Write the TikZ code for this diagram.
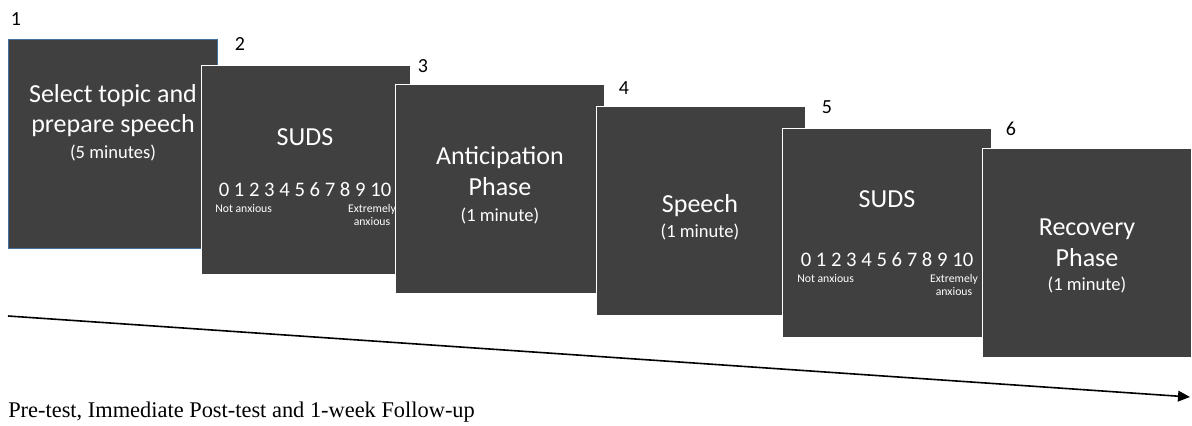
\documentclass[tikz,border=0pt]{standalone}
\usepackage{fontspec}
\setmainfont{Liberation Serif}
\newfontfamily\cardfont{Carlito}
\usepackage{tikz}
\usetikzlibrary{positioning,arrows.meta}
\definecolor{cardgray}{HTML}{404040}
\definecolor{cardblue}{HTML}{41719C}
\tikzset{
    card/.style={draw=white, line width=1.1pt, fill=cardgray, anchor=north west,
		minimum width=157pt, minimum height=157pt, inner sep=0pt},
    bigtxt/.style={text=white, anchor=base, inner sep=0pt, font=\cardfont\fontsize{19.5}{22}\selectfont},
    smalltxt/.style={text=white, anchor=base, inner sep=0pt, font=\cardfont\fontsize{13.9}{16}\selectfont},
    steplbl/.style={text=black, inner sep=0pt, font=\cardfont\fontsize{15}{18}\selectfont},
    timeline/.style={line width=1.2pt, -{Triangle[length=9pt,width=8pt]}}
}
\tikzset{
    sudsScale/.pic={
		\node[text=white, anchor=base, inner sep=0pt, font=\cardfont\fontsize{15.5}{18}\selectfont] (-nums) at (0,0) {0 1 2 3 4 5 6 7 8 9 10};
		\node[text=white, anchor=base west, inner sep=0pt, font=\cardfont\fontsize{8.8}{10}\selectfont] (-low) at (-90,16) {Not anxious};
		\node[text=white, anchor=base, inner sep=0pt, font=\cardfont\fontsize{8.8}{10}\selectfont] (-high) at (67,16) {Extremely};
		\node[text=white, anchor=base, inner sep=0pt, font=\cardfont\fontsize{8.8}{10}\selectfont] (-high2) at (67,29) {anxious};
	}
}
\begin{document}
\begin{tikzpicture}[x=0.75pt, y=-0.75pt]
			\useasboundingbox (0,0) rectangle (1192,425);
			% card 1
			\node[card, draw=cardblue, line width=0.8pt] (c1) at (8,39) {};
			\node[steplbl] (n1) at (16,19) {1};
			\node[bigtxt] (c1a) at (113,102) {Select topic and};
			\node[bigtxt] (c1b) at (113,132) {prepare speech};
			\node[smalltxt] (c1c) at (113,158) {(5 minutes)};
			% card 2
			\node[card] (c2) at (201,65) {};
			\node[steplbl] (n2) at (240,44) {2};
			\node[bigtxt] (c2a) at (305,145) {SUDS};
			\pic (s2) at (305,196) {sudsScale};
			% card 3
			\node[card] (c3) at (395,84) {};
			\node[steplbl] (n3) at (423,66) {3};
			\node[bigtxt] (c3a) at (500,164) {Anticipation};
			\node[bigtxt] (c3b) at (500,195) {Phase};
			\node[smalltxt] (c3c) at (500,221) {(1 minute)};
			% card 4
			\node[card] (c4) at (596,106) {};
			\node[steplbl] (n4) at (624,88) {4};
			\node[bigtxt] (c4a) at (700,212) {Speech};
			\node[smalltxt] (c4b) at (700,237) {(1 minute)};
			% card 5
			\node[card] (c5) at (782,128) {};
			\node[steplbl] (n5) at (827,107) {5};
			\node[bigtxt] (c5a) at (887,207) {SUDS};
			\pic (s5) at (887,266) {sudsScale};
			% card 6
			\node[card] (c6) at (982,148) {};
			\node[steplbl] (n6) at (1011,129) {6};
			\node[bigtxt] (c6a) at (1087,235) {Recovery};
			\node[bigtxt] (c6b) at (1087,266) {Phase};
			\node[smalltxt] (c6c) at (1087,290) {(1 minute)};
			% time line
			\coordinate (tlstart) at (8,316);
			\coordinate (tlend) at (1190,397);
			\draw[timeline] (tlstart) -- (tlend);
			\node[anchor=base west, inner sep=0pt, font=\fontsize{16.8}{19}\selectfont] (caption) at (8,417) {Pre-test, Immediate Post-test and 1-week Follow-up};
		\end{tikzpicture}
\end{document}
